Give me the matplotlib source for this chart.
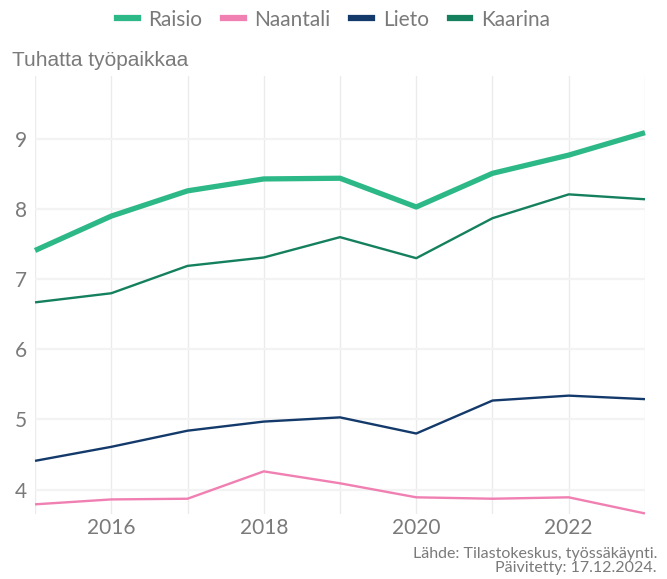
import matplotlib.pyplot as plt
from matplotlib.lines import Line2D

years = [2015, 2016, 2017, 2018, 2019, 2020, 2021, 2022, 2023]
raisio = [7.41, 7.90, 8.26, 8.43, 8.44, 8.03, 8.51, 8.77, 9.09]
naantali = [3.79, 3.86, 3.87, 4.26, 4.09, 3.89, 3.87, 3.89, 3.66]
lieto = [4.41, 4.61, 4.84, 4.97, 5.03, 4.80, 5.27, 5.34, 5.29]
kaarina = [6.67, 6.80, 7.19, 7.31, 7.60, 7.30, 7.87, 8.21, 8.14]

names = ["Raisio", "Naantali", "Lieto", "Kaarina"]
colors = ["#2DB887", "#F07FB2", "#133A6B", "#14805E"]
widths = [3.8, 1.7, 1.7, 1.7]

x_ticks = [2016, 2018, 2020, 2022]
y_ticks = [4, 5, 6, 7, 8, 9]

GRAY = "#7A7A7A"

fig = plt.figure(figsize=(6.67, 5.79), dpi=100)
ax = fig.add_axes([0.0525, 0.112, 0.9145, 0.757])

series = [raisio, naantali, lieto, kaarina]
# thin lines first, Raisio on top
for vals, c, w in list(zip(series, colors, widths))[::-1]:
    ax.plot(years, vals, color=c, lw=w, solid_capstyle="butt", clip_on=False)

ax.set_xlim(2015, 2023)
ax.set_ylim(3.65, 9.9)
ax.set_xticks(x_ticks)
ax.set_xticks(years, minor=True)
ax.set_yticks(y_ticks)

ax.grid(True, which="both", axis="x", color="#EBEBEB", lw=1.0)
ax.grid(True, which="major", axis="y", color="#F3F3F3", lw=1.6)
ax.set_axisbelow(True)
for s in ax.spines.values():
    s.set_visible(False)
ax.tick_params(which="both", length=0)
ax.tick_params(axis="x", labelsize=15, labelcolor=GRAY, pad=3)
ax.tick_params(axis="y", labelsize=15, labelcolor=GRAY, pad=6)
for lab in ax.get_xticklabels() + ax.get_yticklabels():
    lab.set_family("Lato")

fig.text(0.018, 0.895, "Tuhatta työpaikkaa", fontsize=15, color=GRAY,
         family="Liberation Sans", ha="left", va="center")

handles = [Line2D([], [], color=c, lw=4.5) for c in colors]
leg = fig.legend(handles, names, loc="center", bbox_to_anchor=(0.5, 0.966),
                 ncol=4, frameon=False, handlelength=1.0, handletextpad=0.5,
                 columnspacing=1.0, prop={"family": "Lato", "size": 15})
for t in leg.get_texts():
    t.set_color(GRAY)

fig.text(0.985, 0.031, "Lähde: Tilastokeskus, työssäkäynti.\nPäivitetty: 17.12.2024.",
         fontsize=11.5, color=GRAY, family="Lato",
         ha="right", va="center", linespacing=1.05)

fig.savefig("out.png", dpi=100)
